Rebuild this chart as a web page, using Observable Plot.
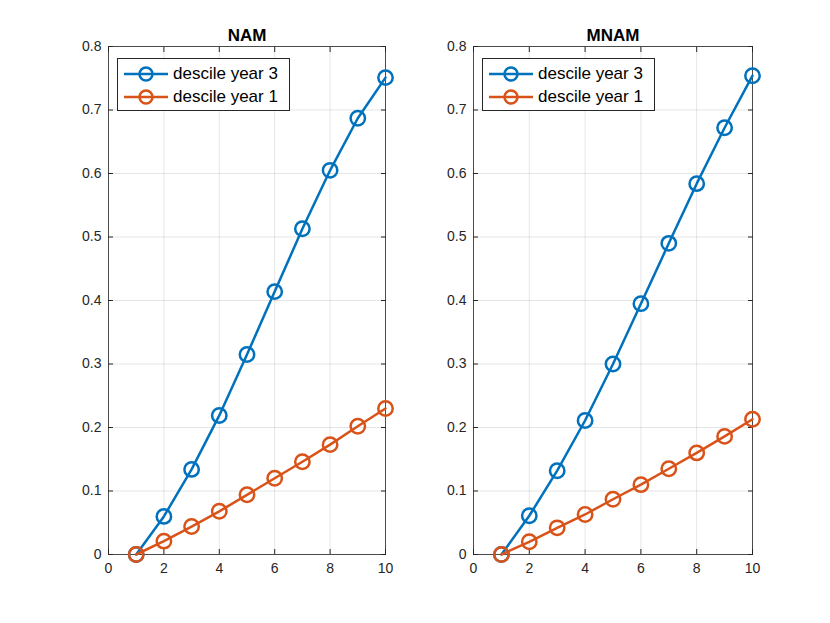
<!DOCTYPE html>
<html><head><meta charset="utf-8">
<script src="https://cdn.jsdelivr.net/npm/d3@7"></script>
<script src="https://cdn.jsdelivr.net/npm/@observablehq/plot@0.6"></script>
<style>
body{margin:0;background:#fff;font-family:"Liberation Sans",Arial,sans-serif}
#wrap{position:relative;width:830px;height:623px;background:#fff}
.panel{position:absolute;top:0}
.legend{position:absolute;box-sizing:border-box;width:173px;height:53px;border:0.8px solid #262626;background:#fff;padding:4px 0 0 5px;font-size:17px;color:#000}
.row{display:flex;align-items:center;height:22.5px;white-space:nowrap}
.row svg{margin-right:4px;flex:none}
</style></head><body><div id="wrap"></div>
<script>
const deciles = [1, 2, 3, 4, 5, 6, 7, 8, 9, 10];
const namYear3 = [0, 0.060, 0.134, 0.219, 0.315, 0.414, 0.513, 0.605, 0.687, 0.751];
const namYear1 = [0, 0.021, 0.044, 0.068, 0.094, 0.120, 0.146, 0.173, 0.202, 0.230];
const mnamYear3 = [0, 0.061, 0.132, 0.211, 0.300, 0.395, 0.490, 0.584, 0.672, 0.754];
const mnamYear1 = [0, 0.020, 0.042, 0.063, 0.087, 0.110, 0.135, 0.160, 0.186, 0.213];
const seriesNames = ["descile year 3", "descile year 1"];
const colors = ["#0072BD", "#D95319"];
const xTicks = [0, 2, 4, 6, 8, 10];
const yTicks = [0, 0.1, 0.2, 0.3, 0.4, 0.5, 0.6, 0.7, 0.8];
const titles = ["NAM", "MNAM"];

const panels = [
  {title: titles[0], y3: namYear3, y1: namYear1, left: 0, mL: 108, mR: 30},
  {title: titles[1], y3: mnamYear3, y1: mnamYear1, left: 415, mL: 58, mR: 78}
];

const wrap = document.getElementById("wrap");
const fmt = d => d === 0 ? "0" : String(+d.toFixed(1));
const blank = () => "";

panels.forEach(p => {
  const data = [];
  deciles.forEach((d, i) => {
    data.push({x: d, y: p.y3[i], s: seriesNames[0]});
    data.push({x: d, y: p.y1[i], s: seriesNames[1]});
  });
  const chart = Plot.plot({
    width: 415, height: 623,
    marginLeft: p.mL, marginRight: p.mR, marginTop: 46, marginBottom: 69,
    style: {fontFamily: "Liberation Sans, Arial, sans-serif", fontSize: "14px", color: "#262626", background: "transparent"},
    x: {domain: [0, 10]},
    y: {domain: [0, 0.8]},
    color: {domain: seriesNames, range: colors},
    marks: [
      Plot.gridX(xTicks, {stroke: "#000", strokeOpacity: 0.1}),
      Plot.gridY(yTicks, {stroke: "#000", strokeOpacity: 0.1}),
      Plot.axisX(xTicks, {anchor: "bottom", tickSize: 0, tickPadding: 9, tickFormat: fmt, label: null, fontSize: 14}),
      Plot.axisY(yTicks, {anchor: "left", tickSize: 0, tickPadding: 7, tickFormat: fmt, label: null, fontSize: 14}),
      Plot.axisX(xTicks, {anchor: "bottom", tickSize: -5, tickFormat: blank, label: null}),
      Plot.axisX(xTicks, {anchor: "top", tickSize: -5, tickFormat: blank, label: null}),
      Plot.axisY(yTicks, {anchor: "left", tickSize: -5, tickFormat: blank, label: null}),
      Plot.axisY(yTicks, {anchor: "right", tickSize: -5, tickFormat: blank, label: null}),
      Plot.frame({stroke: "#262626", strokeWidth: 0.8}),
      Plot.line(data, {x: "x", y: "y", stroke: "s", strokeWidth: 2.5}),
      Plot.dot(data, {x: "x", y: "y", stroke: "s", r: 7.2, strokeWidth: 2.5, fill: "none"}),
      Plot.text([p.title], {frameAnchor: "top", lineAnchor: "bottom", dy: -6, fontWeight: "bold", fontSize: 17, fill: "#000"})
    ]
  });
  const div = document.createElement("div");
  div.className = "panel";
  div.style.left = p.left + "px";
  div.appendChild(chart);
  const leg = document.createElement("div");
  leg.className = "legend";
  leg.style.left = (p.mL + 9) + "px";
  leg.style.top = "58px";
  seriesNames.forEach((name, i) => {
    const row = document.createElement("div");
    row.className = "row";
    row.innerHTML = `<svg width="46" height="20"><line x1="1" y1="10" x2="45" y2="10" stroke="${colors[i]}" stroke-width="2.5"/><circle cx="23" cy="10" r="6.5" fill="none" stroke="${colors[i]}" stroke-width="2.5"/></svg><span>${name}</span>`;
    leg.appendChild(row);
  });
  div.appendChild(leg);
  wrap.appendChild(div);
});
</script></body></html>
